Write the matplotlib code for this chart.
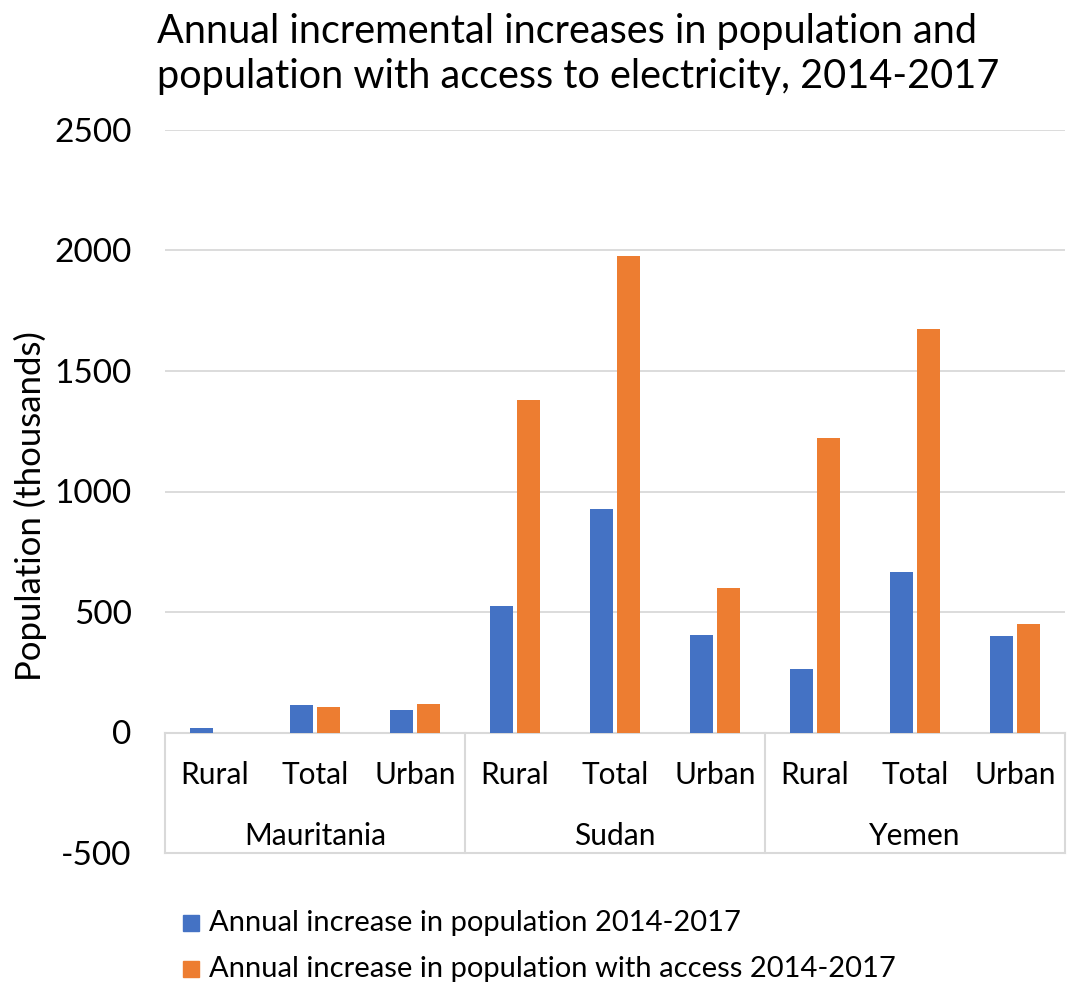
import matplotlib.pyplot as plt
import numpy as np

plt.rcParams['font.family'] = ['Lato', 'DejaVu Sans']
plt.rcParams['axes.unicode_minus'] = False

countries = ["Mauritania", "Sudan", "Yemen"]
areas = ["Rural", "Total", "Urban"]

# thousands of people per year
pop_increase = [17, 116, 95, 524, 929, 404, 263, 666, 400]
access_increase = [0, 104, 119, 1379, 1979, 598, 1224, 1673, 449]

blue = '#4472c4'
orange = '#ed7d31'
grid_col = '#d9d9d9'

fig = plt.figure(figsize=(10.67, 9.83), dpi=100)
ax = fig.add_axes([165 / 1067, 1 - 853 / 983, 900 / 1067, 723 / 983])

x = np.arange(len(pop_increase))
w = 0.227
ax.bar(x - 0.135, pop_increase, w, color=blue, linewidth=0, zorder=3)
ax.bar(x + 0.135, access_increase, w, color=orange, linewidth=0, zorder=3)

ax.set_xlim(-0.5, len(x) - 0.5)
ax.set_ylim(-500, 2500)
ax.set_yticks(np.arange(-500, 2501, 500))
ax.set_xticks([])
for yv in range(500, 2501, 500):
    ax.axhline(yv, color=grid_col, lw=1.3, zorder=1)
for s in ax.spines.values():
    s.set_visible(False)
ax.tick_params(axis='y', length=0, pad=24, labelsize=24)

# two-level category axis
ax.plot([-0.5, len(x) - 0.5], [0, 0], color=grid_col, lw=1.5, zorder=2, clip_on=False)
ax.plot([-0.5, len(x) - 0.5], [-500, -500], color=grid_col, lw=1.5, zorder=2, clip_on=False)
for xv in [-0.5, 2.5, 5.5, 8.5]:
    ax.plot([xv, xv], [0, -500], color=grid_col, lw=1.5, zorder=2, clip_on=False)
for i in x:
    ax.text(i, -178, areas[i % 3], ha='center', va='center', fontsize=21.5)
for j, c in enumerate(countries):
    ax.text(3 * j + 1, -430, c, ha='center', va='center', fontsize=21.5)

ax.set_ylabel("Population (thousands)", fontsize=25)
ax.yaxis.set_label_coords(-118 / 900, 0.48)

fig.text(157 / 1067, 1 - 54 / 983,
         "Annual incremental increases in population and\npopulation with access to electricity, 2014-2017",
         ha='left', va='center', fontsize=28.5, linespacing=1.25)

# legend
for k, (lab, col) in enumerate([("Annual increase in population 2014-2017", blue),
                                ("Annual increase in population with access 2014-2017", orange)]):
    yy = 1 - (923 + 46 * k) / 983
    fig.patches.append(plt.Rectangle((183 / 1067, yy - 8 / 983), 16 / 1067, 16 / 983,
                                     transform=fig.transFigure, color=col))
    fig.text(209 / 1067, yy, lab, ha='left', va='center', fontsize=21)

fig.savefig('out.png', dpi=100)
